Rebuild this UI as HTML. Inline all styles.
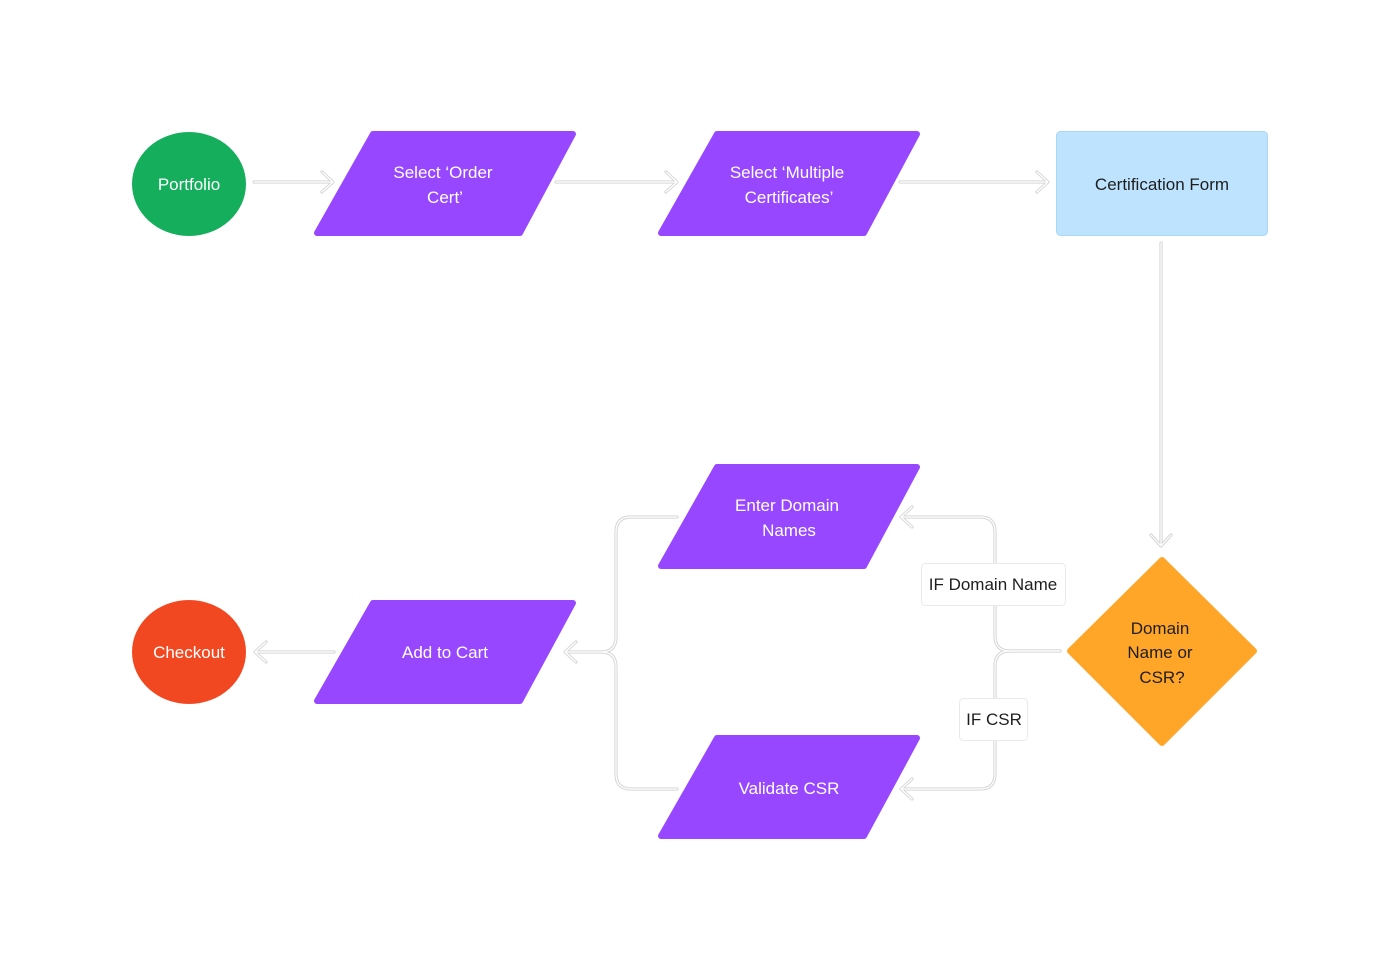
<!DOCTYPE html>
<html><head><meta charset="utf-8"><style>
html,body{margin:0;padding:0;background:#fff}
svg{display:block}
text{font-family:"Liberation Sans",sans-serif;font-size:17px}
.c1{fill:none;stroke:#d6d6d6;stroke-width:3.2;stroke-linecap:round;stroke-linejoin:round}
.c2{fill:none;stroke:#fff;stroke-width:1.2;stroke-linecap:round;stroke-linejoin:round}
.pg{fill:#9747ff;stroke:#9747ff;stroke-width:6;stroke-linejoin:round}
</style></head><body>
<svg width="1400" height="971" viewBox="0 0 1400 971" xmlns="http://www.w3.org/2000/svg">
<defs>
<g id="conns">
<path d="M254 182 H332 M322 172 L333 182 L322 192"/>
<path d="M556 182 H676 M666 172 L677 182 L666 192"/>
<path d="M900 182 H1047 M1037 172 L1048 182 L1037 192"/>
<path d="M1161 243 V545 M1151 535 L1161 546 L1171 535"/>
<path d="M334 652 H256 M266 642 L255 652 L266 662"/>
<path d="M1060 651 H1010 Q995 651 995 636 V532 Q995 517 980 517 H902 M912 507 L901 517 L912 527"/>
<path d="M1060 651 H1010 Q995 651 995 666 V774 Q995 789 980 789 H902 M912 779 L901 789 L912 799"/>
<path d="M677 517 H631 Q616 517 616 532 V637 Q616 652 601 652 H566 M576 642 L565 652 L576 662"/>
<path d="M677 789 H631 Q616 789 616 774 V667 Q616 652 601 652"/>
</g>
</defs>
<use href="#conns" class="c1"/>
<use href="#conns" class="c2"/>

<ellipse cx="189" cy="184" rx="57" ry="52" fill="#14ae5c"/>
<text x="189" y="190" text-anchor="middle" fill="#fff">Portfolio</text>

<path class="pg" d="M373 134 H573 L520 233 H317 Z"/>
<text x="443" y="178" text-anchor="middle" fill="#fff">Select ‘Order</text>
<text x="445" y="203" text-anchor="middle" fill="#fff">Cert’</text>

<path class="pg" d="M717 134 H917 L864 233 H661 Z"/>
<text x="787" y="178" text-anchor="middle" fill="#fff">Select ‘Multiple</text>
<text x="789" y="203" text-anchor="middle" fill="#fff">Certificates’</text>

<rect x="1056.5" y="131.5" width="211" height="104" rx="4" fill="#bde3ff" stroke="#a8d8f5"/>
<text x="1162" y="190" text-anchor="middle" fill="#1e1e1e">Certification Form</text>

<path class="pg" d="M717 467 H917 L864 566 H661 Z"/>
<text x="787" y="511" text-anchor="middle" fill="#fff">Enter Domain</text>
<text x="789" y="536" text-anchor="middle" fill="#fff">Names</text>

<path class="pg" d="M373 603 H573 L520 701 H317 Z"/>
<text x="445" y="658" text-anchor="middle" fill="#fff">Add to Cart</text>

<path class="pg" d="M717 738 H917 L864 836 H661 Z"/>
<text x="789" y="794" text-anchor="middle" fill="#fff">Validate CSR</text>

<ellipse cx="189" cy="652" rx="57" ry="52" fill="#f24822"/>
<text x="189" y="658" text-anchor="middle" fill="#fff">Checkout</text>

<path d="M1162 560 L1254 651 L1162 743 L1070 651 Z" fill="#ffa629" stroke="#ffa629" stroke-width="6" stroke-linejoin="round"/>
<text x="1160" y="634" text-anchor="middle" fill="#1e1e1e">Domain</text>
<text x="1160" y="658" text-anchor="middle" fill="#1e1e1e">Name or</text>
<text x="1162" y="683" text-anchor="middle" fill="#1e1e1e">CSR?</text>

<rect x="921.5" y="563.5" width="144" height="42" rx="4" fill="#fff" stroke="#eaeaea"/>
<text x="993" y="590" text-anchor="middle" fill="#1e1e1e">IF Domain Name</text>
<rect x="959.5" y="698.5" width="68" height="42" rx="4" fill="#fff" stroke="#eaeaea"/>
<text x="994" y="725" text-anchor="middle" fill="#1e1e1e">IF CSR</text>
</svg>
</body></html>
